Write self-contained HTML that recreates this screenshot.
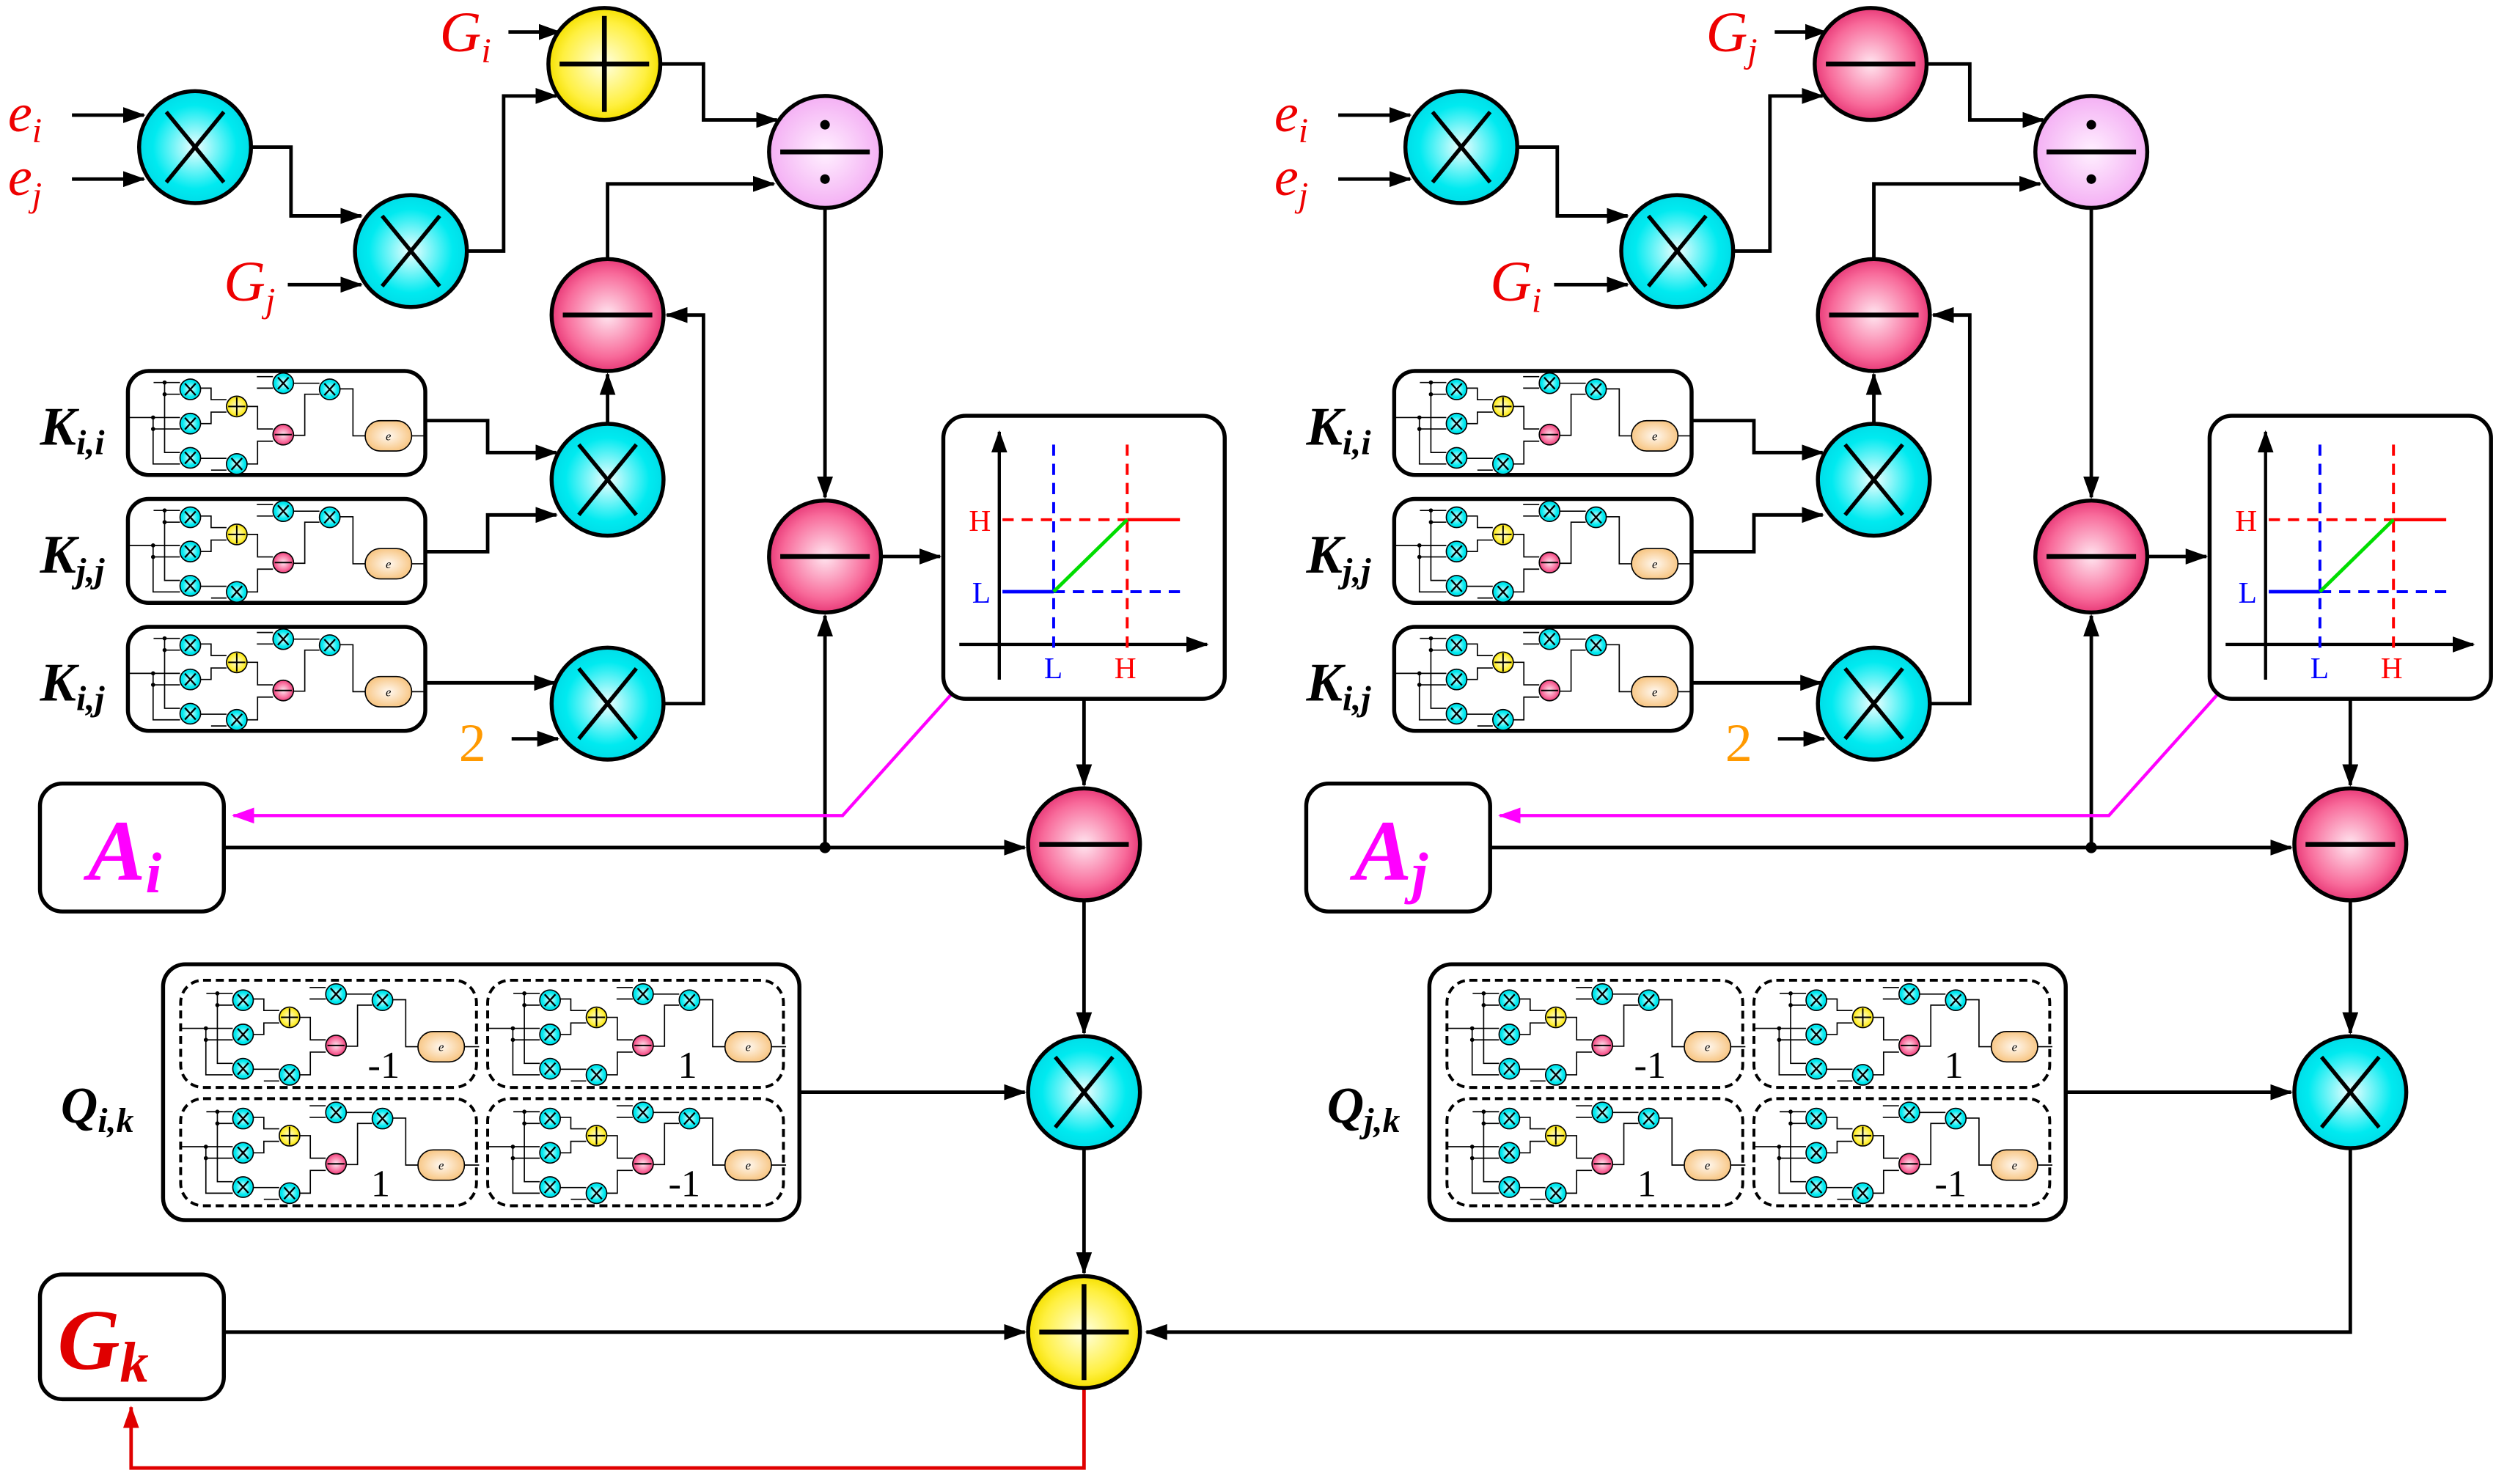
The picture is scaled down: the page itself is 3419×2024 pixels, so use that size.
<!DOCTYPE html>
<html><head><meta charset="utf-8"><style>html,body{margin:0;padding:0;background:#fff}svg{display:block}
.s{font-family:"Liberation Serif","DejaVu Serif",serif}
.bi{font-family:"Liberation Serif","DejaVu Serif",serif;font-weight:bold;font-style:italic}
.it{font-family:"Liberation Serif","DejaVu Serif",serif;font-style:italic}
</style></head><body>
<svg width="3419" height="2024" viewBox="0 0 1568 928" preserveAspectRatio="none" xmlns="http://www.w3.org/2000/svg">
<defs>
<radialGradient id="gc"><stop offset="0" stop-color="#f0ffff"/><stop offset="0.75" stop-color="#00eaf0"/><stop offset="1" stop-color="#00dde8"/></radialGradient>
<radialGradient id="gp"><stop offset="0" stop-color="#ffe6f0"/><stop offset="0.75" stop-color="#f86a9a"/><stop offset="1" stop-color="#e83a78"/></radialGradient>
<radialGradient id="gy"><stop offset="0" stop-color="#ffffe0"/><stop offset="0.75" stop-color="#fff040"/><stop offset="1" stop-color="#f5e000"/></radialGradient>
<radialGradient id="gl"><stop offset="0" stop-color="#fff0ff"/><stop offset="1" stop-color="#f4b0f4"/></radialGradient>
<radialGradient id="go"><stop offset="0" stop-color="#fff8f0"/><stop offset="1" stop-color="#f8c888"/></radialGradient>
<marker id="a" markerWidth="14" markerHeight="10" refX="13" refY="5" orient="auto" markerUnits="userSpaceOnUse"><path d="M0,0L14,5L0,10z" fill="#000"/></marker>
<marker id="am" markerWidth="14" markerHeight="10" refX="13" refY="5" orient="auto" markerUnits="userSpaceOnUse"><path d="M0,0L14,5L0,10z" fill="#ff00ff"/></marker>
<marker id="ar" markerWidth="14" markerHeight="10" refX="13" refY="5" orient="auto" markerUnits="userSpaceOnUse"><path d="M0,0L14,5L0,10z" fill="#e00000"/></marker>
<g id="cX"><circle r="35" fill="url(#gc)" stroke="#000" stroke-width="2.5"/><path d="M-18,-22L18,22M18,-22L-18,22" stroke="#000" stroke-width="2.5"/></g>
<g id="cM"><circle r="35" fill="url(#gp)" stroke="#000" stroke-width="2.5"/><path d="M-28,0H28" stroke="#000" stroke-width="3"/></g>
<g id="cP"><circle r="35" fill="url(#gy)" stroke="#000" stroke-width="2.5"/><path d="M-28,0H28M0,-30V30" stroke="#000" stroke-width="3"/></g>
<g id="cD"><circle r="35" fill="url(#gl)" stroke="#000" stroke-width="2.5"/><path d="M-28,0H28" stroke="#000" stroke-width="3"/><circle cy="-17" r="3" fill="#000"/><circle cy="17" r="3" fill="#000"/></g>
<g id="sx"><circle r="42" fill="url(#gc)" stroke="#000" stroke-width="5"/><path d="M-22,-24L22,24M22,-24L-22,24" stroke="#000" stroke-width="7"/></g>
<g id="mc" fill="none" stroke="#000" stroke-width="5">
<path d="M150,82H258M195,82V368H258M195,130H258M50,225H258M148,225V415H258M148,272H258"/>
<path d="M342,105H385V152H448M342,250H385V203H448M342,392H448M385,440H448"/>
<path d="M532,180H575V272H638M532,415H575V322H638M572,58H638M572,105H638M722,85H828M722,298H768V130H828M912,108H965V300H1015M1205,300H1265"/>
<circle cx="195" cy="82" r="6" fill="#000"/><circle cx="195" cy="130" r="6" fill="#000"/><circle cx="148" cy="225" r="6" fill="#000"/><circle cx="148" cy="272" r="6" fill="#000"/>
<use href="#sx" x="300" y="110"/><use href="#sx" x="300" y="250"/><use href="#sx" x="300" y="390"/><use href="#sx" x="490" y="415"/><use href="#sx" x="680" y="85"/><use href="#sx" x="870" y="110"/>
<circle cx="490" cy="180" r="42" fill="url(#gy)"/><path d="M455,180H525M490,143V217" stroke-width="6"/>
<circle cx="680" cy="295" r="42" fill="url(#gp)"/><path d="M645,295H715" stroke-width="6"/>
<rect x="1015" y="238" width="190" height="124" rx="62" fill="url(#go)"/>
<text x="1110" y="318" class="it" font-size="50" fill="#000" stroke="none" text-anchor="middle">e</text>
</g>
<g id="kb"><rect x="0" y="0" width="186" height="65" rx="13" fill="#fff" stroke="#000" stroke-width="2.5"/><use href="#mc" transform="scale(0.153) translate(-45,-35)"/></g>
<g id="qb"><rect x="0" y="0" width="185" height="67" rx="14" fill="none" stroke="#000" stroke-width="1.8" stroke-dasharray="5,3"/><use href="#mc" transform="translate(0,1) scale(0.153) translate(-45,-35)"/></g>
</defs>

<rect width="1568" height="928" fill="#fff"/>

<!-- ===== LEFT HALF ===== -->
<g>
<use href="#kb" x="80" y="232"/><use href="#kb" x="80" y="312"/><use href="#kb" x="80" y="392"/>
<g class="bi" fill="#000">
<text x="25" y="278" font-size="34">K<tspan font-size="22" dy="6">i,i</tspan></text>
<text x="25" y="358" font-size="34">K<tspan font-size="22" dy="6">j,j</tspan></text>
<text x="25" y="438" font-size="34">K<tspan font-size="22" dy="6">i,j</tspan></text>
</g>
<text x="287" y="476" class="s" font-size="34" fill="#ff9900">2</text>
<g fill="none" stroke="#000" stroke-width="2.2" marker-end="url(#a)">
<path d="M45,72H90"/><path d="M45,112H90"/><path d="M157,92H182V135H226"/><path d="M180,178H226"/><path d="M292,157H315V60H348"/><path d="M318,20H350"/><path d="M413,40H440V75H486"/><path d="M380,162V115H484"/><path d="M516,130V311"/><path d="M380,265V234"/><path d="M415,440H440V197H417"/><path d="M266,263H305V283H348"/><path d="M266,345H305V322H348"/><path d="M266,427H347"/><path d="M320,462H349"/><path d="M551,348H588"/><path d="M516,530V385"/><path d="M140,530H641"/><path d="M678,437V491"/><path d="M678,563V646"/><path d="M500,683H641"/>
</g>
<circle cx="516" cy="530" r="3.5" fill="#000"/>
<path d="M597,432L527,510H146" fill="none" stroke="#ff00ff" stroke-width="2" marker-end="url(#am)"/>
<use href="#cX" x="122" y="92"/><use href="#cX" x="257" y="157"/><use href="#cP" x="378" y="40"/>
<use href="#cD" x="516" y="95"/><use href="#cM" x="380" y="197"/><use href="#cX" x="380" y="300"/><use href="#cX" x="380" y="440"/>
<use href="#cM" x="516" y="348"/><use href="#cM" x="678" y="528"/><use href="#cX" x="678" y="683"/>
<rect x="590" y="260" width="176" height="177" rx="14" fill="#fff" stroke="#000" stroke-width="2.5"/>
<path d="M625,425V270" stroke="#000" stroke-width="2" fill="none" marker-end="url(#a)"/>
<path d="M600,403H755" stroke="#000" stroke-width="2" fill="none" marker-end="url(#a)"/>
<path d="M659,278V410" stroke="#0000ff" stroke-width="1.8" stroke-dasharray="7,5"/>
<path d="M705,278V410" stroke="#ff0000" stroke-width="1.8" stroke-dasharray="7,5"/>
<path d="M627,325H705" stroke="#ff0000" stroke-width="1.8" stroke-dasharray="7,5"/>
<path d="M705,325H738" stroke="#ff0000" stroke-width="2"/>
<path d="M627,370H659" stroke="#0000ff" stroke-width="2.2"/>
<path d="M659,370H738" stroke="#0000ff" stroke-width="1.8" stroke-dasharray="7,5"/>
<path d="M659,370L705,325" stroke="#00dd00" stroke-width="2.2"/>
<g class="s" font-size="19">
<text x="606" y="332" fill="#ff0000">H</text><text x="608" y="377" fill="#0000ff">L</text>
<text x="653" y="424" fill="#0000ff">L</text><text x="697" y="424" fill="#ff0000">H</text>
</g>
<rect x="25" y="490" width="115" height="80" rx="14" fill="#fff" stroke="#000" stroke-width="2.5"/>
<rect x="102" y="603" width="398" height="160" rx="14" fill="#fff" stroke="#000" stroke-width="2.5"/>
<use href="#qb" x="113" y="613"/><use href="#qb" x="305" y="613"/><use href="#qb" x="113" y="687"/><use href="#qb" x="305" y="687"/>
<g class="s" font-size="24" fill="#000" text-anchor="middle">
<text x="240" y="674">-1</text><text x="430" y="674">1</text><text x="238" y="748">1</text><text x="428" y="748">-1</text>
</g>
<g class="it" fill="#ee0000">
<text x="5" y="82" font-size="34">e<tspan font-size="22" dy="7">i</tspan></text>
<text x="5" y="122" font-size="34">e<tspan font-size="22" dy="7">j</tspan></text>
<text x="275" y="32" font-size="36">G<tspan font-size="22" dy="7">i</tspan></text>
<text x="140" y="188" font-size="36">G<tspan font-size="22" dy="7">j</tspan></text>
</g>
<text x="55" y="550" class="bi" font-size="54" fill="#ff00ff">A<tspan font-size="36" dy="8">i</tspan></text>
<text x="38" y="702" class="bi" font-size="32" fill="#000">Q<tspan font-size="22" dy="6">i,k</tspan></text>
</g>

<!-- ===== RIGHT HALF ===== -->
<g transform="translate(792,0)">
<use href="#kb" x="80" y="232"/><use href="#kb" x="80" y="312"/><use href="#kb" x="80" y="392"/>
<g class="bi" fill="#000">
<text x="25" y="278" font-size="34">K<tspan font-size="22" dy="6">i,i</tspan></text>
<text x="25" y="358" font-size="34">K<tspan font-size="22" dy="6">j,j</tspan></text>
<text x="25" y="438" font-size="34">K<tspan font-size="22" dy="6">i,j</tspan></text>
</g>
<text x="287" y="476" class="s" font-size="34" fill="#ff9900">2</text>
<g fill="none" stroke="#000" stroke-width="2.2" marker-end="url(#a)">
<path d="M45,72H90"/><path d="M45,112H90"/><path d="M157,92H182V135H226"/><path d="M180,178H226"/><path d="M292,157H315V60H348"/><path d="M318,20H350"/><path d="M413,40H440V75H486"/><path d="M380,162V115H484"/><path d="M516,130V311"/><path d="M380,265V234"/><path d="M415,440H440V197H417"/><path d="M266,263H305V283H348"/><path d="M266,345H305V322H348"/><path d="M266,427H347"/><path d="M320,462H349"/><path d="M551,348H588"/><path d="M516,530V385"/><path d="M140,530H641"/><path d="M678,437V491"/><path d="M678,563V646"/><path d="M500,683H641"/>
</g>
<circle cx="516" cy="530" r="3.5" fill="#000"/>
<path d="M597,432L527,510H146" fill="none" stroke="#ff00ff" stroke-width="2" marker-end="url(#am)"/>
<use href="#cX" x="122" y="92"/><use href="#cX" x="257" y="157"/><use href="#cM" x="378" y="40"/>
<use href="#cD" x="516" y="95"/><use href="#cM" x="380" y="197"/><use href="#cX" x="380" y="300"/><use href="#cX" x="380" y="440"/>
<use href="#cM" x="516" y="348"/><use href="#cM" x="678" y="528"/><use href="#cX" x="678" y="683"/>
<rect x="590" y="260" width="176" height="177" rx="14" fill="#fff" stroke="#000" stroke-width="2.5"/>
<path d="M625,425V270" stroke="#000" stroke-width="2" fill="none" marker-end="url(#a)"/>
<path d="M600,403H755" stroke="#000" stroke-width="2" fill="none" marker-end="url(#a)"/>
<path d="M659,278V410" stroke="#0000ff" stroke-width="1.8" stroke-dasharray="7,5"/>
<path d="M705,278V410" stroke="#ff0000" stroke-width="1.8" stroke-dasharray="7,5"/>
<path d="M627,325H705" stroke="#ff0000" stroke-width="1.8" stroke-dasharray="7,5"/>
<path d="M705,325H738" stroke="#ff0000" stroke-width="2"/>
<path d="M627,370H659" stroke="#0000ff" stroke-width="2.2"/>
<path d="M659,370H738" stroke="#0000ff" stroke-width="1.8" stroke-dasharray="7,5"/>
<path d="M659,370L705,325" stroke="#00dd00" stroke-width="2.2"/>
<g class="s" font-size="19">
<text x="606" y="332" fill="#ff0000">H</text><text x="608" y="377" fill="#0000ff">L</text>
<text x="653" y="424" fill="#0000ff">L</text><text x="697" y="424" fill="#ff0000">H</text>
</g>
<rect x="25" y="490" width="115" height="80" rx="14" fill="#fff" stroke="#000" stroke-width="2.5"/>
<rect x="102" y="603" width="398" height="160" rx="14" fill="#fff" stroke="#000" stroke-width="2.5"/>
<use href="#qb" x="113" y="613"/><use href="#qb" x="305" y="613"/><use href="#qb" x="113" y="687"/><use href="#qb" x="305" y="687"/>
<g class="s" font-size="24" fill="#000" text-anchor="middle">
<text x="240" y="674">-1</text><text x="430" y="674">1</text><text x="238" y="748">1</text><text x="428" y="748">-1</text>
</g>
<g class="it" fill="#ee0000">
<text x="5" y="82" font-size="34">e<tspan font-size="22" dy="7">i</tspan></text>
<text x="5" y="122" font-size="34">e<tspan font-size="22" dy="7">j</tspan></text>
<text x="275" y="32" font-size="36">G<tspan font-size="22" dy="7">j</tspan></text>
<text x="140" y="188" font-size="36">G<tspan font-size="22" dy="7">i</tspan></text>
</g>
<text x="55" y="550" class="bi" font-size="54" fill="#ff00ff">A<tspan font-size="36" dy="8">j</tspan></text>
<text x="38" y="702" class="bi" font-size="32" fill="#000">Q<tspan font-size="22" dy="6">j,k</tspan></text>
</g>

<!-- Gk and sum -->
<rect x="25" y="797" width="115" height="78" rx="14" fill="#fff" stroke="#000" stroke-width="2.5"/>
<text x="36" y="856" class="bi" font-size="54" fill="#e00000">G<tspan font-size="36" dy="8">k</tspan></text>
<g fill="none" stroke="#000" stroke-width="2.2" marker-end="url(#a)">
<path d="M678,718V796"/><path d="M140,833H641"/><path d="M1470,718V833H717"/>
</g>
<path d="M678,868V918H82V880" fill="none" stroke="#e00000" stroke-width="2.2" marker-end="url(#ar)"/>
<use href="#cP" x="678" y="833"/>
</svg>
</body></html>
